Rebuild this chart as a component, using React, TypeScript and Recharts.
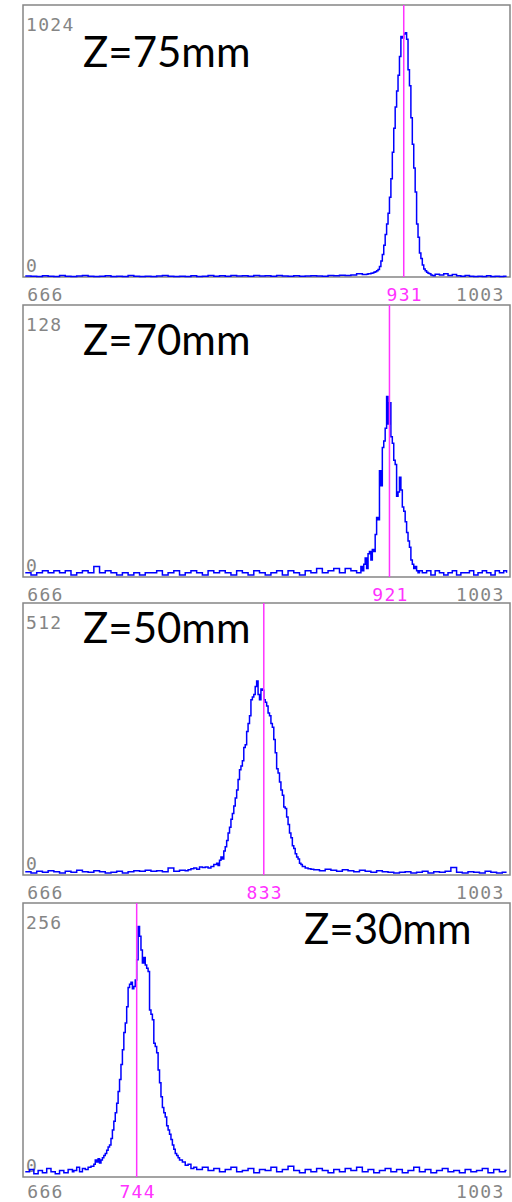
import { useMemo } from "react";
import { LineChart, Line, XAxis, YAxis, ReferenceLine, ReferenceArea } from "recharts";

// histogram bins: [channel, count]
type Bin = [number, number];

const CH_FIRST = 666;
const CH_LAST = 1003;
// the frame sits a little outside the first / last channel
const FRAME_LEFT = 664.4;
const FRAME_RIGHT = 1005.4;

const z75Bins: Bin[] = [
    [666, 4], [670, 3], [674, 2], [678, 5], [682, 3], [686, 2], [690, 6], [694, 3], [698, 2], [702, 4],
    [706, 6], [710, 3], [714, 2], [718, 3], [722, 5], [726, 2], [730, 3], [734, 2], [738, 6], [742, 3],
    [746, 2], [750, 3], [754, 2], [758, 4], [762, 6], [766, 3], [770, 2], [774, 3], [778, 2], [782, 5],
    [786, 2], [790, 3], [794, 6], [798, 3], [802, 5], [806, 3], [810, 6], [814, 4], [818, 5], [822, 3],
    [826, 6], [830, 4], [834, 5], [838, 3], [842, 6], [846, 4], [850, 3], [854, 5], [858, 3], [862, 4],
    [866, 5], [870, 4], [874, 3], [878, 6], [882, 5], [886, 7], [890, 6], [894, 8], [898, 12], [902, 9],
    [905, 10], [906, 12], [907, 12], [908, 14], [909, 15], [910, 18], [911, 20], [912, 24], [913, 28], [914, 40],
    [915, 60], [916, 85], [917, 120], [918, 160], [919, 200], [920, 240], [921, 300], [922, 370], [923, 470], [924, 560],
    [925, 640], [926, 700], [927, 760], [928, 830], [929, 905], [930, 900], [931, 915], [932, 920], [933, 895], [934, 780],
    [935, 720], [936, 600], [937, 500], [938, 410], [939, 320], [940, 200], [941, 150], [942, 90], [943, 70], [944, 45],
    [945, 30], [946, 24], [947, 18], [948, 14], [949, 12], [950, 8], [951, 6], [952, 5],
    [953, 10], [956, 8], [959, 12], [962, 6], [965, 9], [968, 5], [971, 3], [974, 6], [977, 3], [980, 2],
    [983, 3], [986, 2], [989, 5], [992, 2], [995, 3], [998, 2], [1001, 3], [1003, 3],
];

const z70Bins: Bin[] = [
    [666, 2], [670, 1], [674, 2], [678, 3], [682, 2], [686, 3], [690, 2], [694, 3], [698, 1], [702, 2],
    [706, 3], [710, 2], [714, 5], [718, 2], [722, 3], [726, 2], [730, 1], [734, 2], [738, 1], [742, 2],
    [746, 1], [750, 2], [754, 2], [758, 3], [762, 1], [766, 2], [770, 3], [774, 1], [778, 2], [782, 3],
    [786, 2], [790, 1], [794, 3], [798, 2], [802, 3], [806, 2], [810, 1], [814, 3], [818, 2], [822, 1],
    [826, 3], [830, 2], [834, 1], [838, 2], [842, 3], [846, 1], [850, 3], [854, 2], [858, 1], [862, 3],
    [866, 2], [870, 4], [874, 2], [878, 3], [882, 4], [886, 2], [890, 4], [894, 3], [898, 2],
    [900, 2], [901, 5], [902, 3], [903, 6], [904, 9], [905, 4], [906, 11], [907, 12], [908, 8], [909, 13],
    [910, 12], [911, 20], [912, 28], [913, 27], [914, 50], [915, 43], [916, 61], [917, 64], [918, 70], [919, 85],
    [920, 72], [921, 82], [922, 66], [923, 63], [924, 55], [925, 53], [926, 38], [927, 40], [928, 47], [929, 41],
    [930, 33], [931, 31], [932, 26], [933, 21], [934, 17], [935, 14], [936, 8], [937, 6], [938, 4], [939, 5],
    [940, 3], [941, 2], [942, 3],
    [944, 2], [947, 3], [950, 1], [953, 3], [956, 2], [959, 1], [962, 2], [965, 3], [968, 1], [971, 2],
    [974, 2], [977, 3], [980, 1], [983, 2], [986, 3], [989, 2], [992, 1], [995, 3], [998, 2], [1001, 3], [1003, 2],
];

const z50Bins: Bin[] = [
    [666, 6], [670, 4], [674, 7], [678, 5], [682, 8], [686, 6], [690, 4], [694, 7], [698, 5], [702, 9],
    [706, 6], [710, 5], [714, 8], [718, 6], [722, 4], [726, 5], [730, 7], [734, 4], [738, 6], [742, 8],
    [746, 7], [750, 9], [754, 7], [758, 8], [762, 6], [766, 13], [770, 7], [774, 9], [778, 8],
    [780, 10], [782, 12], [784, 13], [786, 11], [788, 15], [790, 14], [792, 15], [794, 13], [796, 16], [798, 20],
    [800, 22], [801, 18], [802, 28], [803, 34], [804, 30], [805, 45], [806, 53], [807, 65], [808, 79], [809, 90],
    [810, 105], [811, 116], [812, 130], [813, 145], [814, 160], [815, 180], [816, 198], [817, 205], [818, 215], [819, 240],
    [820, 245], [821, 270], [822, 285], [823, 300], [824, 330], [825, 335], [826, 340], [827, 355], [828, 365], [829, 340],
    [830, 330], [831, 350], [832, 348], [833, 330], [834, 325], [835, 318], [836, 305], [837, 300], [838, 285], [839, 278],
    [840, 255], [841, 230], [842, 200], [843, 192], [844, 175], [845, 160], [846, 150], [847, 128], [848, 125], [849, 109],
    [850, 95], [851, 79], [852, 70], [853, 55], [854, 50], [855, 40], [856, 34], [857, 30], [858, 22], [859, 20],
    [860, 16], [862, 13], [864, 12], [866, 11],
    [868, 10], [872, 8], [876, 11], [880, 9], [884, 7], [888, 10], [892, 8], [896, 6], [900, 9], [904, 7],
    [908, 5], [912, 8], [916, 6], [920, 5], [924, 4], [928, 5], [932, 6], [936, 4], [940, 5], [944, 7],
    [948, 4], [952, 6], [956, 5], [960, 7], [964, 14], [968, 5], [972, 4], [976, 6], [980, 5], [984, 4],
    [988, 7], [992, 5], [996, 4], [1000, 5], [1003, 5],
];

const z30Bins: Bin[] = [
    [666, 5], [669, 7], [672, 3], [675, 6], [678, 4], [681, 8], [684, 5], [687, 3], [690, 6], [693, 4],
    [696, 7], [699, 5],
    [700, 6], [702, 9], [704, 5], [706, 8], [708, 7], [710, 9], [712, 10], [714, 12], [715, 16], [716, 14],
    [717, 17], [718, 13], [719, 16], [720, 18], [721, 20], [722, 22], [723, 25], [724, 28], [725, 30], [726, 36],
    [727, 44], [728, 52], [729, 60], [730, 69], [731, 80], [732, 91], [733, 105], [734, 119], [735, 135], [736, 144],
    [737, 159], [738, 177], [739, 180], [740, 182], [741, 176], [742, 178], [743, 184], [744, 203], [745, 234], [746, 225],
    [747, 212], [748, 200], [749, 205], [750, 198], [751, 195], [752, 192], [753, 156], [754, 152], [755, 147], [756, 125],
    [757, 122], [758, 116], [759, 100], [760, 88], [761, 75], [762, 65], [763, 60], [764, 56], [765, 48], [766, 44],
    [767, 40], [768, 35], [769, 30], [770, 26], [771, 22], [772, 20], [773, 18], [774, 16], [776, 14], [778, 11],
    [780, 12], [782, 8], [784, 9],
    [786, 7], [790, 9], [794, 6], [798, 8], [802, 5], [806, 7], [810, 9], [814, 5], [818, 6], [822, 8],
    [826, 4], [830, 7], [834, 6], [838, 9], [842, 5], [846, 7], [850, 10], [854, 6], [858, 4], [862, 7],
    [866, 5], [870, 8], [874, 6], [878, 4], [882, 7], [886, 5], [890, 8], [894, 6], [898, 9], [902, 5],
    [906, 7], [910, 4], [914, 6], [918, 8], [922, 5], [926, 7], [930, 4], [934, 6], [938, 9], [942, 5],
    [946, 7], [950, 4], [954, 6], [958, 8], [962, 5], [966, 6], [970, 4], [974, 7], [978, 5], [982, 6],
    [986, 8], [990, 4], [994, 7], [998, 5], [1002, 6], [1003, 6],
];

const panelLabels = ["Z=75mm", "Z=70mm", "Z=50mm", "Z=30mm"];
const panelMaxCounts = [1024, 128, 512, 256];
const panelPeaks = [931, 921, 833, 744];

const GREY = "#858585";
const MAGENTA = "#ff33ff";
const MONO = "'DejaVu Sans Mono', monospace";

function ChannelTick(props: any) {
    const { x, y, payload, peak, drop } = props;
    const v = payload.value;
    const isPeak = v === peak;
    const anchor = v === CH_FIRST ? "start" : v === CH_LAST ? "end" : "middle";
    const dx = v === CH_FIRST ? 2 : v === CH_LAST ? -2 : 1;
    return (
        <text x={x} y={y} dx={dx} dy={drop} textAnchor={anchor} fontFamily={MONO} fontSize={18}
            letterSpacing={1.3} fill={isPeak ? MAGENTA : GREY}>
            {v}
        </text>
    );
}

// count labels sit just inside the frame, top-left and bottom-left
function CountLabel(props: any) {
    const { viewBox, value, atTop } = props;
    return (
        <text x={viewBox.x + 3} y={viewBox.y} dy={atTop ? 26 : -5} textAnchor="start" fontFamily={MONO}
            fontSize={18} letterSpacing={1.3} fill={GREY}>
            {value}
        </text>
    );
}

interface PanelProps {
    bins: Bin[];
    yMax: number;
    peak: number;
    label: string;
    labelX: number;
    labelBaseline: number;
    plotHeight: number;
    axisHeight: number;
    tickDrop: number;
    top: number;
}

function Panel({ bins, yMax, peak, label, labelX, labelBaseline, plotHeight, axisHeight, tickDrop, top }: PanelProps) {
    const data = useMemo(() => bins.map(([ch, count]) => ({ ch, count })), [bins]);
    const height = 5 + plotHeight + axisHeight;
    return (
        <div style={{ position: "absolute", left: 0, top, width: 512, height }}>
            <LineChart width={512} height={height} data={data} margin={{ top: 5, right: 2, bottom: 0, left: 23 }}>
                <XAxis
                    type="number"
                    dataKey="ch"
                    domain={[FRAME_LEFT, FRAME_RIGHT]}
                    ticks={[CH_FIRST, peak, CH_LAST]}
                    interval={0}
                    axisLine={false}
                    tickLine={false}
                    height={axisHeight}
                    tick={<ChannelTick peak={peak} drop={tickDrop} />}
                />
                <YAxis type="number" domain={[0, yMax]} hide />
                <ReferenceArea x1={FRAME_LEFT} x2={FRAME_RIGHT} y1={0} y2={yMax}
                    fill="none" fillOpacity={0} stroke={GREY} strokeWidth={1.5} />
                <ReferenceLine y={yMax} stroke="none" label={<CountLabel value={yMax} atTop />} />
                <ReferenceLine y={0} stroke="none" label={<CountLabel value={0} />} />
                <Line type="stepAfter" dataKey="count" stroke="#0000ff" strokeWidth={1.5}
                    dot={false} isAnimationActive={false} />
                <ReferenceLine x={peak} stroke={MAGENTA} strokeWidth={1.5} />
            </LineChart>
            <svg width={512} height={height} style={{ position: "absolute", left: 0, top: 0, pointerEvents: "none" }}>
                <text x={labelX} y={labelBaseline} fontFamily="Lato, 'Open Sans', sans-serif" fontSize={42} fill="#000">
                    {label}
                </text>
            </svg>
        </div>
    );
}

export default function App() {
    const bins = [z75Bins, z70Bins, z50Bins, z30Bins];
    const panelTops = [0, 300, 598, 898];
    const labelX = [83, 83, 83, 304];
    const labelBaseline = [67, 55, 45, 46];
    const plotHeights = [272, 272, 272, 274];
    const axisHeights = [30, 30, 30, 25];
    const tickDrops = [16, 16, 16, 13];
    return (
        <div style={{ position: "absolute", left: 0, top: 0, width: 512, height: 1202, background: "#fff", overflow: "hidden" }}>
            {bins.map((b, i) => (
                <Panel
                    key={i}
                    bins={b}
                    yMax={panelMaxCounts[i]}
                    peak={panelPeaks[i]}
                    label={panelLabels[i]}
                    labelX={labelX[i]}
                    labelBaseline={labelBaseline[i]}
                    plotHeight={plotHeights[i]}
                    axisHeight={axisHeights[i]}
                    tickDrop={tickDrops[i]}
                    top={panelTops[i]}
                />
            ))}
        </div>
    );
}
